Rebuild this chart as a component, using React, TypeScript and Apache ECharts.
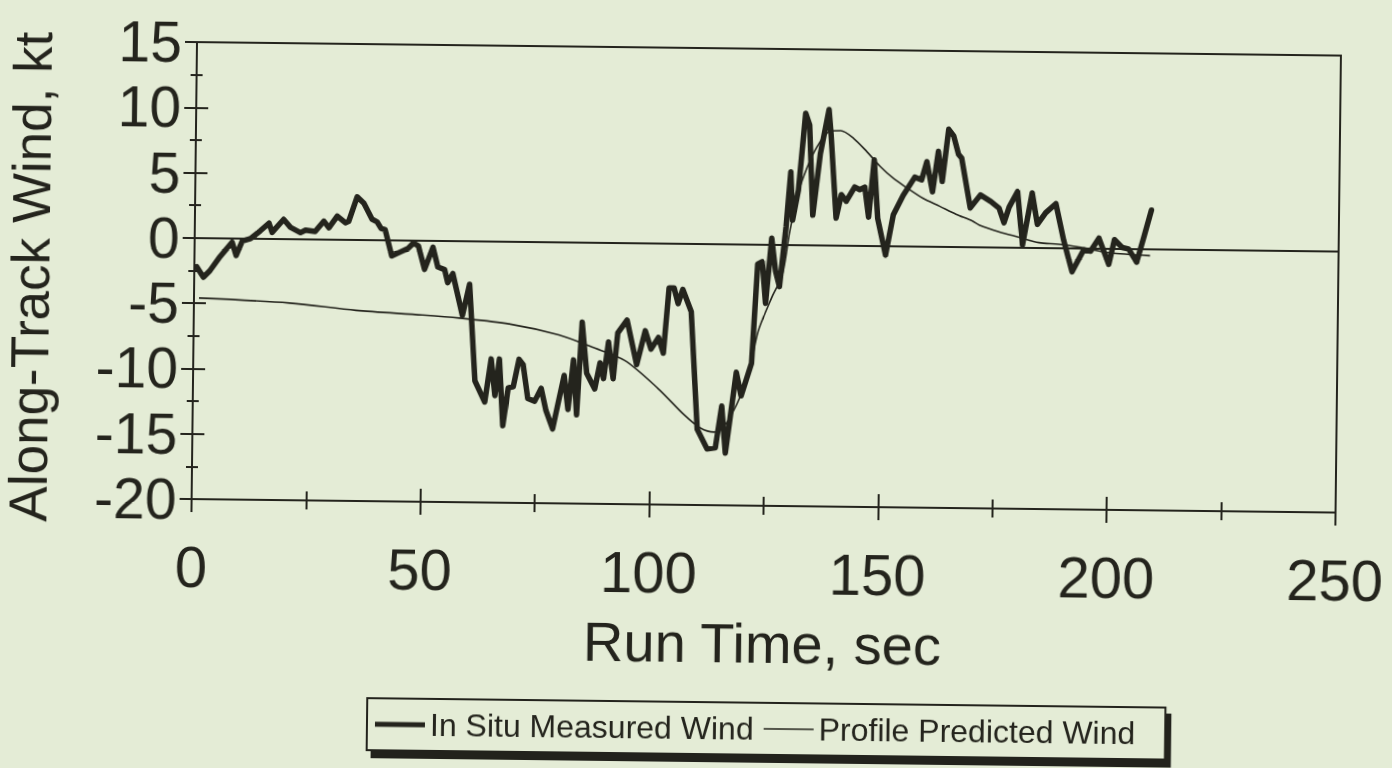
import React, { useEffect, useRef } from "react";
import * as echarts from "echarts";

// ---- data ----
const measuredTime = [
  0.5, 2.0, 3.4, 5.6, 8.2, 9.1, 10.4, 12.2, 14.3, 16.2, 16.9, 19.4, 20.9, 23.1, 24.2, 26.3, 28.2, 29.3,
  31.1, 32.9, 33.6, 35.4, 36.9, 38.7, 39.8, 40.7, 41.6, 43.1, 44.9, 46.7, 47.8, 48.9, 50.3, 52.1, 53.2,
  54.7, 55.4, 56.5, 58.7, 60.2, 61.6, 63.8, 65.1, 66.0, 66.9, 67.8, 68.9, 70.0, 71.2, 72.1, 73.2, 74.7,
  76.1, 77.2, 78.7, 79.8, 81.1, 82.0, 83.1, 83.9, 84.9, 86.0, 87.8, 88.9, 89.7, 90.7, 91.8, 92.7, 94.7,
  96.9, 98.7, 100.0, 101.6, 102.7, 103.8, 104.9, 105.8, 106.8, 108.7, 110.3, 112.5, 114.3, 115.6, 116.5,
  118.7, 119.8, 122.0, 123.1, 124.1, 124.9, 126.1, 127.0, 127.9, 129.2, 130.1, 130.6, 131.8, 133.2, 134.1,
  135.0, 136.5, 138.3, 138.8, 140.1, 141.2, 142.3, 144.1, 145.2, 146.3, 147.2, 148.3, 149.2, 151.0, 152.6,
  154.7, 157.2, 158.7, 159.8, 161.1, 162.3, 163.2, 164.5, 165.6, 166.7, 167.4, 169.4, 171.6, 173.9, 175.7,
  176.8, 177.9, 179.7, 180.9, 182.9, 184.1, 185.9, 188.1, 189.9, 191.8, 194.3, 195.8, 197.6, 199.8, 201.0,
  202.7, 204.1, 205.9, 207.4, 209.0,
];
const measuredWind = [
  -2.2, -3.0, -2.5, -1.4, -0.3, -1.3, -0.2, 0.0, 0.6, 1.2, 0.5, 1.5, 0.9, 0.5, 0.7, 0.6, 1.4, 0.9,
  1.8, 1.3, 1.4, 3.3, 2.8, 1.6, 1.4, 0.9, 0.8, -1.2, -0.9, -0.6, -0.2, -0.4, -2.2, -0.5, -2.0,
  -2.2, -3.2, -2.5, -5.7, -3.3, -10.7, -12.3, -9.0, -11.8, -9.0, -14.1, -11.2, -11.1, -9.0, -9.4, -12.0, -12.2,
  -11.2, -12.9, -14.3, -12.4, -10.2, -12.8, -9.0, -13.2, -6.1, -10.0, -11.2, -9.2, -10.4, -7.6, -10.4, -6.9, -5.9,
  -9.3, -6.7, -8.1, -7.2, -8.4, -3.4, -3.4, -4.6, -3.5, -5.2, -14.2, -15.7, -15.6, -12.4, -16.0,
  -9.8, -11.6, -9.1, -1.5, -1.3, -4.5, 0.5, -2.0, -3.2, 1.4, 5.6, 1.9, 4.2, 10.1, 9.2,
  2.3, 7.0, 10.4, 8.5, 2.1, 3.9, 3.4, 4.5, 4.3, 4.5, 2.2, 6.6, 2.1, -0.7, 2.4,
  3.9, 5.3, 5.1, 6.5, 4.2, 7.3, 5.0, 9.0, 8.5, 7.1, 6.8, 3.0, 4.0, 3.5, 3.0,
  1.9, 3.1, 4.3, 0.2, 4.2, 1.8, 2.7, 3.4, 0.6, -1.8, -0.1, -0.2, 0.8, -1.2, 0.7,
  0.1, 0.0, -1.0, 0.9, 3.0,
];
const predictedTime = [
  1.1, 20.9, 35.4, 50.0, 58.0, 68.9, 79.8, 87.1, 94.3, 101.6, 107.4, 111.0, 114.0, 116.1, 119.8, 122.0,
  123.4, 126.3, 128.5, 130.0, 131.8, 133.6, 135.7, 138.3, 140.9, 143.8, 146.7, 149.6, 152.5, 155.4, 159.0,
  162.7, 166.3, 169.9, 171.4, 175.7, 180.1, 184.5, 188.8, 193.2, 199.7, 208.8,
];
const predictedWind = [
  -4.6, -4.9, -5.4, -5.7, -5.9, -6.3, -7.1, -8.0, -9.0, -11.1, -13.1, -14.1, -14.4, -14.0, -11.5, -8.9,
  -6.6, -4.0, -2.3, 1.0, 4.0, 5.9, 7.5, 8.7, 8.8, 8.2, 7.2, 6.1, 5.2, 4.5, 3.7,
  3.1, 2.5, 2.0, 1.7, 1.2, 0.8, 0.4, 0.3, 0.1, -0.3, -0.5,
];
const seriesNames = ["In Situ Measured Wind", "Profile Predicted Wind"];
const xTitle = "Run Time, sec";
const yTitle = "Along-Track Wind, kt";
const xMin = 0, xMax = 250, xStep = 50;
const yMin = -20, yMax = 15, yStep = 5;

const INK = "#24241d";
const PAPER = "#e4ecd6";
const FONT = "'Liberation Sans', Arial, Helvetica, sans-serif";

export default function App() {
  const ref = useRef<HTMLDivElement>(null);
  useEffect(() => {
    if (!ref.current) return;
    document.body.style.background = PAPER;
    const chart = echarts.init(ref.current, undefined, { renderer: "svg" });
    const tickLine = { color: INK, width: 2 };
    const baseX = {
      type: "value", min: xMin, max: xMax, interval: xStep, position: "bottom",
      splitLine: { show: false }, minorSplitLine: { show: false },
    };
    const baseY = {
      type: "value", min: yMin, max: yMax, interval: yStep, position: "left",
      splitLine: { show: false }, minorSplitLine: { show: false },
    };
    chart.setOption({
      animation: false,
      backgroundColor: PAPER,
      grid: {
        left: 193, right: 55, top: 48, bottom: 263,
        show: true, borderColor: INK, borderWidth: 2, backgroundColor: "transparent",
        containLabel: false, outerBoundsMode: "none",
      },
      xAxis: [
        {
          ...baseX,
          axisLine: { show: true, onZero: false, lineStyle: tickLine },
          axisTick: { show: true, inside: false, length: 13, lineStyle: tickLine },
          minorTick: { show: true, splitNumber: 2, length: 9, lineStyle: tickLine },
          axisLabel: {
            show: true, margin: 38, fontSize: 58, lineHeight: 58, color: INK, fontFamily: FONT,
            showMinLabel: true, showMaxLabel: true, hideOverlap: false,
          },
          name: xTitle, nameLocation: "middle", nameGap: 114, nameMoveOverlap: false,
          nameTextStyle: { fontSize: 56, lineHeight: 46, color: INK, fontFamily: FONT },
        },
        {
          ...baseX,
          axisLine: { show: false, onZero: false },
          axisTick: { show: true, inside: true, length: 13, lineStyle: tickLine },
          minorTick: { show: true, splitNumber: 2, length: 9, lineStyle: tickLine },
          axisLabel: { show: false },
        },
      ],
      yAxis: [
        {
          ...baseY,
          axisLine: { show: true, onZero: false, lineStyle: tickLine },
          axisTick: { show: true, inside: false, length: 12, lineStyle: tickLine },
          minorTick: { show: true, splitNumber: 2, length: 6, lineStyle: tickLine },
          axisLabel: {
            show: true, margin: 15, fontSize: 57, color: INK, fontFamily: FONT,
            showMinLabel: true, showMaxLabel: true, hideOverlap: false,
          },
          name: yTitle, nameLocation: "middle", nameGap: 137, nameMoveOverlap: false,
          nameTextStyle: { fontSize: 53, color: INK, fontFamily: FONT, padding: [0, 16, 0, 0] },
        },
        {
          ...baseY,
          axisLine: { show: false, onZero: false },
          axisTick: { show: true, inside: true, length: 12, lineStyle: tickLine },
          minorTick: { show: true, splitNumber: 2, length: 6, lineStyle: tickLine },
          axisLabel: { show: false },
        },
      ],
      legend: {
        show: true, orient: "horizontal", left: 371, top: 702,
        itemWidth: 50, itemHeight: 14, itemGap: 10, symbolKeepAspect: true,
        padding: [10, 30, 10, 8],
        borderColor: INK, borderWidth: 2, borderRadius: 0, backgroundColor: PAPER,
        shadowColor: INK, shadowOffsetX: 5, shadowOffsetY: 7, shadowBlur: 0,
        textStyle: { fontSize: 32, color: INK, fontFamily: FONT },
        data: [
          { name: seriesNames[0], icon: "path://M0,0H10V1H0Z", itemStyle: { color: INK, borderWidth: 0 } },
          { name: seriesNames[1], icon: "path://M0,0H32V1H0Z", itemStyle: { color: INK, borderWidth: 0 } },
        ],
      },
      series: [
        {
          name: seriesNames[0], type: "line", xAxisIndex: 0, yAxisIndex: 0,
          data: measuredTime.map((t, i) => [t, measuredWind[i]]),
          symbol: "none", showSymbol: false, z: 4,
          lineStyle: { color: INK, width: 5.5, join: "round", cap: "round" },
          itemStyle: { color: INK },
          markLine: {
            silent: true, symbol: "none", label: { show: false },
            lineStyle: { color: INK, width: 2, type: "solid" },
            data: [{ yAxis: 0 }],
          },
        },
        {
          name: seriesNames[1], type: "line", xAxisIndex: 0, yAxisIndex: 0,
          data: predictedTime.map((t, i) => [t, predictedWind[i]]),
          symbol: "none", showSymbol: false, smooth: 0.3, z: 3,
          lineStyle: { color: INK, width: 1.6 },
          itemStyle: { color: INK },
        },
      ],
    });
    return () => chart.dispose();
  }, []);
  return (
    <div
      ref={ref}
      style={{
        position: "fixed", left: 0, top: 0, width: 1392, height: 768,
        transform: "rotate(0.676deg)", transformOrigin: "50% 50%",
      }}
    />
  );
}
